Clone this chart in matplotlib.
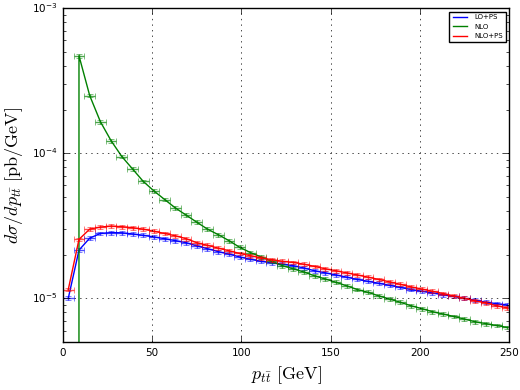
import matplotlib
matplotlib.use("Agg")
import matplotlib.pyplot as plt
import numpy as np

plt.style.use("classic")
plt.rcParams["mathtext.fontset"] = "cm"

# bin centres (6 GeV bins)
pt = np.arange(3, 250, 6)

lo_ps = [1.0e-5, 2.15e-5, 2.6e-5, 2.8e-5, 2.84e-5, 2.83e-5, 2.78e-5, 2.72e-5, 2.65e-5, 2.58e-5,
         2.5e-5, 2.42e-5, 2.3e-5, 2.2e-5, 2.1e-5, 2.02e-5, 1.93e-5, 1.86e-5, 1.8e-5, 1.76e-5,
         1.72e-5, 1.68e-5, 1.62e-5, 1.55e-5, 1.5e-5, 1.45e-5, 1.4e-5, 1.35e-5, 1.31e-5, 1.27e-5,
         1.23e-5, 1.19e-5, 1.15e-5, 1.12e-5, 1.09e-5, 1.06e-5, 1.03e-5, 1.0e-5, 9.7e-6, 9.4e-6,
         9.2e-6, 9.0e-6]
nlo = [0.0, 4.7e-4, 2.5e-4, 1.65e-4, 1.22e-4, 9.5e-5, 7.8e-5, 6.4e-5, 5.5e-5, 4.8e-5,
       4.2e-5, 3.75e-5, 3.35e-5, 3.0e-5, 2.75e-5, 2.5e-5, 2.25e-5, 2.07e-5, 1.93e-5, 1.8e-5,
       1.68e-5, 1.6e-5, 1.52e-5, 1.43e-5, 1.36e-5, 1.29e-5, 1.22e-5, 1.15e-5, 1.1e-5, 1.04e-5,
       9.9e-6, 9.4e-6, 8.9e-6, 8.5e-6, 8.1e-6, 7.8e-6, 7.5e-6, 7.2e-6, 6.9e-6, 6.7e-6,
       6.5e-6, 6.3e-6]
nlo_ps = [1.15e-5, 2.55e-5, 3.0e-5, 3.1e-5, 3.15e-5, 3.12e-5, 3.07e-5, 3.0e-5, 2.9e-5, 2.8e-5,
          2.7e-5, 2.58e-5, 2.42e-5, 2.32e-5, 2.22e-5, 2.13e-5, 2.04e-5, 1.97e-5, 1.9e-5, 1.85e-5,
          1.8e-5, 1.77e-5, 1.72e-5, 1.66e-5, 1.6e-5, 1.55e-5, 1.5e-5, 1.45e-5, 1.4e-5, 1.35e-5,
          1.3e-5, 1.25e-5, 1.2e-5, 1.16e-5, 1.12e-5, 1.08e-5, 1.04e-5, 1.0e-5, 9.6e-6, 9.3e-6,
          8.9e-6, 8.6e-6]

fig = plt.figure(figsize=(5.2, 3.9), dpi=100, facecolor="white")
ax = fig.add_axes([0.121, 0.123, 0.858, 0.856])

for y, col, lab in [(lo_ps, "b", "LO+PS"), (nlo, "g", "NLO"), (nlo_ps, "r", "NLO+PS")]:
    y = np.array(y)
    ax.plot(pt, y, color=col, lw=1, label=lab)
    ax.errorbar(pt, y, xerr=3, yerr=0.03 * y, fmt="none", ecolor=col, elinewidth=1,
                capsize=2.5, alpha=0.7)

ax.set_yscale("log")
ax.set_xlim(0, 250)
ax.set_ylim(5e-6, 1e-3)
ax.grid(True, which="major", color="k", linestyle=":")
ax.tick_params(labelsize=7.5)
ax.set_xlabel(r"$p_{t\bar{t}}\ [\mathrm{GeV}]$", fontsize=13)
ax.set_ylabel(r"$d\sigma/dp_{t\bar{t}}\ [\mathrm{pb/GeV}]$", fontsize=13)
ax.legend(loc="upper right", fontsize=5, handlelength=2.5, borderpad=0.4)

fig.savefig("out.png", dpi=100, facecolor="white")
